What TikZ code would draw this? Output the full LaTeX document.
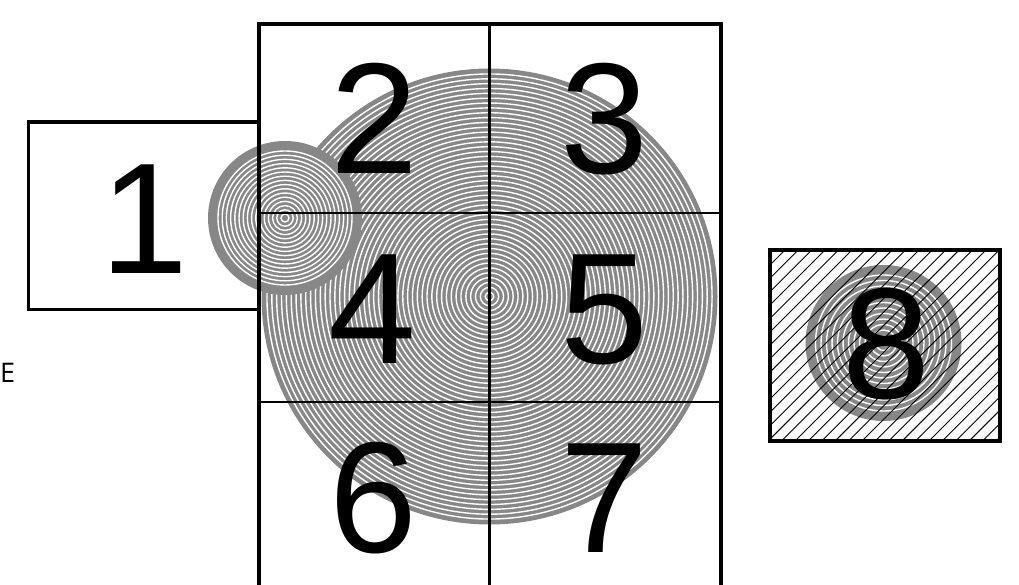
\documentclass[tikz,border=0pt]{standalone}
\usepackage{fontspec}
\setmainfont{Liberation Sans}
\newfontfamily\efont{Open Sans}
\definecolor{ringgray}{gray}{0.53}
\begin{document}
\begin{tikzpicture}[x=1pt,y=-1pt,
  digit/.style={font=\fontsize{158}{158}\selectfont, inner sep=0pt, anchor=base},
  outerline/.style={line width=4pt},
  innerline/.style={line width=2.3pt},
  ring/.style={white, line width=1.4pt},
  hatchline/.style={black, line width=0.9pt}]
\useasboundingbox (0,0) rectangle (1019,585);
\clip (0,0) rectangle (1019,585);
% big circle
\coordinate (bc) at (489.5,296.5);
\fill[ringgray] (bc) circle[radius=228pt];
\foreach \k in {0,...,45} \draw[ring] (bc) circle[radius={(4.3+4.85*\k)*1pt}];
% small circle
\coordinate (sc) at (285,218);
\fill[ringgray] (sc) circle[radius=77pt];
\foreach \k in {0,...,15} \draw[ring] (sc) circle[radius={(4+4.2*\k)*1pt}];
% grid
\coordinate (gtl) at (258.7,23.8);
\coordinate (gtr) at (720.5,23.8);
\coordinate (gbl) at (258.7,600);
\coordinate (gbr) at (720.5,600);
\coordinate (gtm) at (489.5,23.8);
\coordinate (gbm) at (489.5,600);
\coordinate (r1l) at (258.7,212.8);
\coordinate (r1r) at (720.5,212.8);
\coordinate (r2l) at (258.7,401.8);
\coordinate (r2r) at (720.5,401.8);
\draw[innerline] (gtm) -- (gbm);
\draw[innerline] (r1l) -- (r1r);
\draw[innerline] (r2l) -- (r2r);
\draw[outerline] (gbl) -- (gtl) -- (gtr) -- (gbr);
% box 1
\coordinate (b1a) at (258.7,122);
\coordinate (b1b) at (28.5,122);
\coordinate (b1c) at (28.5,309.5);
\coordinate (b1d) at (258.7,309.5);
\draw[line width=3.6pt] (b1a) -- (b1b) -- (b1c) -- (b1d);
% digits
\node[digit] (d1) at (144,273) {1};
\node[digit] (d2) at (374,174) {2};
\node[digit] (d3) at (604,174) {3};
\node[digit] (d4) at (372,363) {4};
\node[digit] (d5) at (604,363) {5};
\node[digit] (d6) at (373,552) {6};
\node[digit] (d7) at (604,552) {7};
% box 8
\coordinate (ec) at (883.5,343);
\fill[ringgray] (ec) circle[radius=78pt];
\foreach \k in {0,...,11} \draw[ring] (ec) circle[radius={(68-5.5*\k)*1pt}];
\begin{scope}
\clip (769.5,250.5) rectangle (999.5,440.5);
\foreach \k in {0,...,33} \draw[hatchline] ({579.5+13.4*\k},442) -- ++(200,-200);
\end{scope}
\node[digit] (d8) at (886,398) {8};
\draw[outerline] (769.5,250.5) rectangle (999.5,440.5);
% stray label
\node[font=\efont\fontsize{27}{27}\selectfont, inner sep=0pt, anchor=base west] (e) at (0,382) {E};
\end{tikzpicture}
\end{document}
